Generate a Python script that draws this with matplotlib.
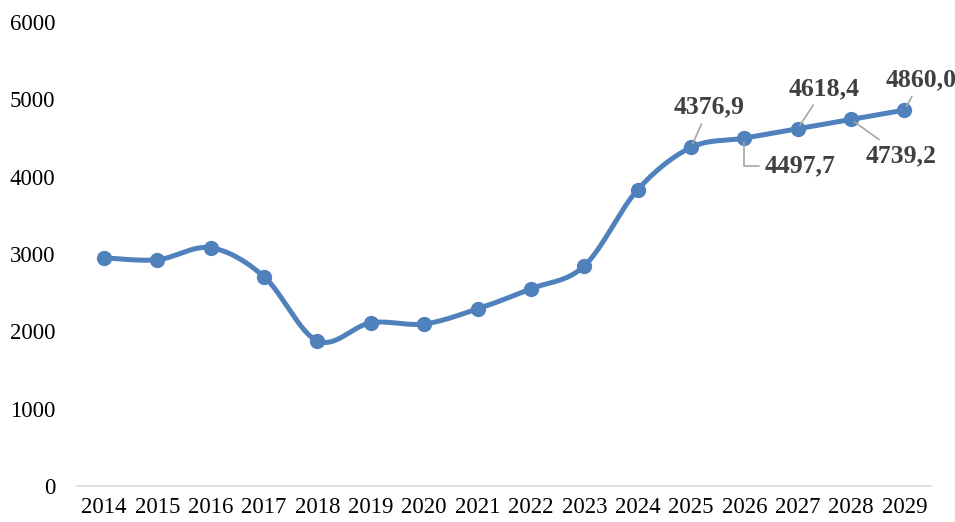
import matplotlib.pyplot as plt
import numpy as np

years = [2014, 2015, 2016, 2017, 2018, 2019, 2020, 2021, 2022,
         2023, 2024, 2025, 2026, 2027, 2028, 2029]
values = [2950, 2925, 3080, 2705, 1875, 2110, 2095, 2290, 2550,
          2845, 3830, 4376.9, 4497.7, 4618.4, 4739.2, 4860.0]

# labelled forecast points: index -> label offset (points)
label_idx = [11, 12, 13, 14, 15]
label_offsets = {11: (13, 29), 12: (40, -20), 13: (19, 29), 14: (36, -26), 15: (12, 22)}

plt.rcParams['font.family'] = ['Liberation Serif', 'DejaVu Serif']

x = np.arange(len(years))
y = np.array(values, dtype=float)


def smooth(px, py, n=30):
    # Catmull-Rom style curve through every point
    P = np.column_stack([px, py])
    P = np.vstack([P[0], P, P[-1]])
    out = []
    for i in range(1, len(P) - 2):
        p0, p1, p2, p3 = P[i - 1], P[i], P[i + 1], P[i + 2]
        c1 = p1 + (p2 - p0) / 6
        c2 = p2 - (p3 - p1) / 6
        t = np.linspace(0, 1, n)[:, None]
        seg = ((1 - t) ** 3) * p1 + 3 * ((1 - t) ** 2) * t * c1 \
            + 3 * (1 - t) * t ** 2 * c2 + t ** 3 * p2
        out.append(seg if i == 1 else seg[1:])
    out = np.vstack(out)
    return out[:, 0], out[:, 1]


fig = plt.figure(figsize=(9.55, 5.22), dpi=100)
ax = fig.add_axes([0.081, 0.069, 0.894, 0.889])

sx, sy = smooth(x, y)
color = '#4f81bd'
ax.plot(sx, sy, color=color, lw=3.6, solid_capstyle='round', zorder=2)
ax.plot(x, y, 'o', color=color, ms=10, zorder=3)

for i in label_idx:
    dx, dy = label_offsets[i]
    conn = 'angle,angleA=0,angleB=90,rad=0' if i == 12 else 'arc3'
    ax.annotate(f'{values[i]:.1f}'.replace('.', ','), xy=(x[i], y[i]),
                xytext=(dx, dy), textcoords='offset points',
                ha='center', va='center', fontsize=18.5, fontweight='bold',
                color='#404040', annotation_clip=False,
                arrowprops=dict(arrowstyle='-', color='#a6a6a6', lw=1.2,
                                shrinkA=2, shrinkB=3, connectionstyle=conn))

ax.set_xlim(-0.5, len(years) - 0.5)
ax.set_ylim(0, 6000)
ax.set_yticks(range(0, 6001, 1000))
ax.set_xticks(x)
ax.set_xticklabels([str(v) for v in years])
ax.tick_params(axis='both', length=0, labelsize=16.5, colors='black')
ax.tick_params(axis='y', pad=16)
ax.tick_params(axis='x', pad=8)
for side in ['top', 'right', 'left']:
    ax.spines[side].set_visible(False)
ax.spines['bottom'].set_color('#d9d9d9')
ax.spines['bottom'].set_linewidth(1.2)

fig.savefig('out.png', dpi=100)
